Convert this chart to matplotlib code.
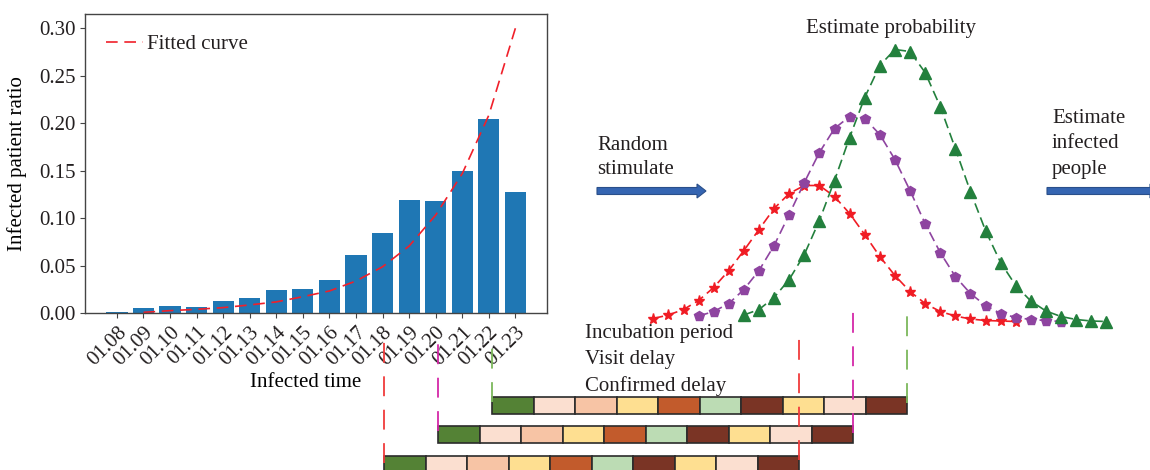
import matplotlib
matplotlib.use("Agg")
import matplotlib.pyplot as plt
from matplotlib.patches import FancyArrow

plt.rcParams['font.family'] = ['Liberation Serif', 'DejaVu Serif']
plt.rcParams['text.color'] = '#231f20'

# ---- bar chart data ----
dates = ["01.08", "01.09", "01.10", "01.11", "01.12", "01.13", "01.14", "01.15",
         "01.16", "01.17", "01.18", "01.19", "01.20", "01.21", "01.22", "01.23"]
ratio = [0.0015, 0.0056, 0.0077, 0.0067, 0.013, 0.016, 0.0245, 0.0256,
         0.035, 0.0613, 0.0845, 0.119, 0.118, 0.1497, 0.2043, 0.1276]
fit_x = [1, 2, 3, 4, 5, 6, 7, 8, 9, 10, 11, 12, 13, 14, 15]
fit_y = [0.001, 0.0028, 0.0042, 0.006, 0.0088, 0.012, 0.0175, 0.0235,
         0.034, 0.049, 0.0708, 0.1034, 0.147, 0.2085, 0.300]

# ---- estimated probability curves (day index, probability) ----
incubation = [0.004, 0.0075, 0.013, 0.022, 0.035, 0.052, 0.072, 0.093, 0.114, 0.129,
              0.137, 0.137, 0.126, 0.109, 0.088, 0.066, 0.047, 0.031, 0.019, 0.011,
              0.0065, 0.0035, 0.002, 0.0015, 0.001]
visit = [0.0065, 0.011, 0.019, 0.033, 0.052, 0.077, 0.108, 0.140, 0.170, 0.194,
         0.206, 0.204, 0.188, 0.163, 0.132, 0.099, 0.070, 0.046, 0.029, 0.017,
         0.009, 0.005, 0.003, 0.002, 0.001]
confirmed = [0.0075, 0.013, 0.025, 0.043, 0.068, 0.102, 0.142, 0.185, 0.225, 0.257,
             0.273, 0.271, 0.250, 0.216, 0.174, 0.131, 0.092, 0.060, 0.037, 0.0215,
             0.0115, 0.006, 0.003, 0.0015, 0.001]
curve_start = [0, 3, 6]

# ---- simulation timelines ----
row_start = [0, 1.3, 2.6]
phase_colors = ['#548235', '#fbdfd0', '#f7c4a5', '#fedf91', '#c25b2c',
                '#bcdcb4', '#7a3425', '#fedf91', '#fbdfd0', '#7a3425']

W, H = 1150, 470
fig = plt.figure(figsize=(W / 100, H / 100), dpi=100)


def px_axes(x0, x1, y0, y1):
    # axes placed by pixel box (y measured from top)
    return fig.add_axes([x0 / W, 1 - y1 / H, (x1 - x0) / W, (y1 - y0) / H])


# bar chart
ax = px_axes(85.3, 547, 14, 313.3)
xs = list(range(len(dates)))
ax.bar(xs, ratio, width=0.8, color='#1f77b4')
ax.plot(fit_x, fit_y, color='#f0202a', lw=1.2, dashes=(7, 4), label='Fitted curve')
ax.set_xticks(xs)
ax.set_xticklabels(dates, rotation=45, ha='right', rotation_mode='anchor', fontsize=15)
ax.set_yticks([0, 0.05, 0.10, 0.15, 0.20, 0.25, 0.30])
ax.set_yticklabels(["0.00", "0.05", "0.10", "0.15", "0.20", "0.25", "0.30"], fontsize=15)
ax.set_xlabel("Infected time", fontsize=15)
ax.set_ylabel("Infected patient ratio", fontsize=15, labelpad=9)
ax.xaxis.set_label_coords(0.478, -0.2)
for s in ax.spines.values():
    s.set_color('#444444')
    s.set_linewidth(1.0)
ax.tick_params(colors='#444444', labelcolor='#231f20')
ax.legend(loc='upper left', frameon=False, fontsize=15, handlelength=1.75,
          handletextpad=0.2, borderaxespad=0.6)

# probability curves
cx = px_axes(653.3, 1106.3, 22.5, 322.5)
cx.set_xlim(0, 30)
cx.set_ylim(0, 0.3)
cx.axis('off')
styles = [('*', '#f01c24', 8), ('p', '#8e44a0', 7.5), ('^', '#23803d', 8.5)]
for vals, st, (mk, col, ms) in zip([incubation, visit, confirmed], curve_start, styles):
    cx.plot([st + i for i in range(len(vals))], vals, marker=mk, color=col, ms=ms,
            lw=1.2, dashes=(6, 3), clip_on=False)

# timelines
gx = px_axes(370, 930, 300, 470)
gx.set_xlim(-0.345, 13.15)
gx.set_ylim(-0.185, 5.539)
gx.axis('off')
for r, st in enumerate(row_start):
    gx.barh([r] * len(phase_colors), [1] * len(phase_colors),
            left=[st + k for k in range(len(phase_colors))], height=0.57,
            color=phase_colors, edgecolor='#2b2b2b', linewidth=1.2, clip_on=False)

guide_colors = ['#f03c3c', '#d428a8', '#7cb85c']
guide_left = [(0.05, 4.36), (1.14, 4.36), (2.1, 4.02)]
guide_right = [(0.15, 4.6), (1.06, 5.17), (2.07, 5.0)]
for r, st in enumerate(row_start):
    for xv, (yb, yt) in [(st, guide_left[r]), (st + len(phase_colors), guide_right[r])]:
        gx.plot([xv, xv], [yb, yt], color=guide_colors[r], lw=1.3, dashes=(11, 7.5),
                clip_on=False, zorder=5)

# annotations
ov = fig.add_axes([0, 0, 1, 1])
ov.set_xlim(0, W)
ov.set_ylim(H, 0)
ov.axis('off')
for x0, length in [(597, 109), (1047, 112)]:
    ov.add_patch(FancyArrow(x0, 191, length, 0, width=7, head_width=14, head_length=9,
                            length_includes_head=True, fc='#3565b2', ec='#2a4f8a', lw=0.8))
ov.text(597, 157.5, "Random\nstimulate", fontsize=15, va='center', ha='left',
        linespacing=1.4)
ov.text(1052, 144, "Estimate\ninfected\npeople", fontsize=15, va='center', ha='left',
        linespacing=1.45)
ov.text(891, 28, "Estimate probability", fontsize=15, va='center', ha='center')
ov.text(585, 360, "Incubation period\nVisit delay\nConfirmed delay", fontsize=15,
        va='center', ha='left', linespacing=1.47)

fig.savefig("out.png", dpi=100)
